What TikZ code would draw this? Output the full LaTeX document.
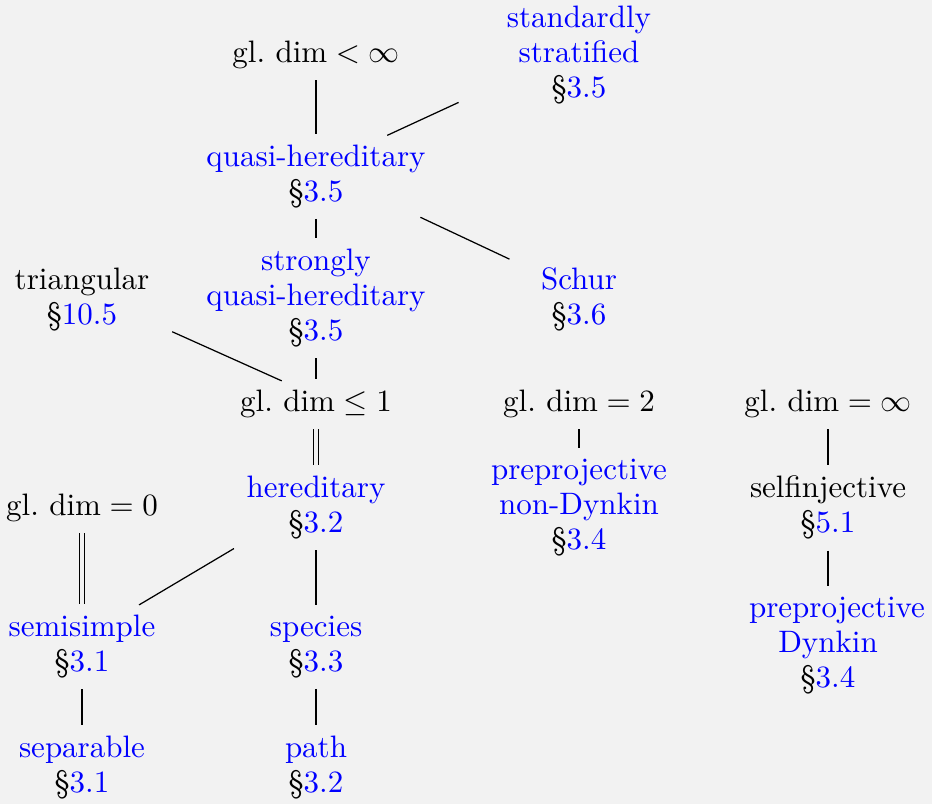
\documentclass[tikz,border=0pt]{standalone}
\usepackage{amsmath}
\usepackage{fontspec}
\definecolor{BgClr}{HTML}{F2F2F2}
\definecolor{LinkClr}{rgb}{0,0,1}
\newcommand{\lnk}[1]{\textcolor{LinkClr}{#1}}
\newcommand{\secnum}[1]{\S\lnk{#1}}
\newcommand{\gldim}{\operatorname{gl.\,dim}}

\tikzset{
  cls/.style={align=center,font=\fontsize{10}{11.3}\selectfont},
  eqlink/.style={double=BgClr,double distance=1pt},
  slant/.style={line width=0.4pt},
}

\begin{document}
\begin{tikzpicture}
\fill[BgClr] (0,0) rectangle (10.567,9.116);
\useasboundingbox (0,0) rectangle (10.567,9.116);

% top rows
\node[cls] (glfin) at (3.583,8.489) {$\gldim < \infty$};
\node[cls] (stdstr) at (6.565,8.494) {\lnk{standardly}\\\lnk{stratified}\\\secnum{3.5}};
\node[cls] (qh) at (3.583,7.117) {\lnk{quasi-hereditary}\\\secnum{3.5}};
\node[cls] (sqh) at (3.583,5.734) {\lnk{strongly}\\\lnk{quasi-hereditary}\\\secnum{3.5}};
\node[cls] (schur) at (6.565,5.716) {\lnk{Schur}\\\secnum{3.6}};
\node[cls] (tri) at (0.930,5.722) {triangular\\\secnum{10.5}};

% global dimension row
\node[cls] (glone) at (3.583,4.532) {$\gldim \le 1$};
\node[cls] (gltwo) at (6.565,4.532) {$\gldim = 2$};
\node[cls] (glinf) at (9.388,4.532) {$\gldim = \infty$};
\node[cls] (glzero) at (0.930,3.352) {$\gldim = 0$};

\node[cls] (her) at (3.583,3.358) {\lnk{hereditary}\\\secnum{3.2}};
\node[cls] (ppnd) at (6.565,3.359) {\lnk{preprojective}\\\lnk{non-Dynkin}\\\secnum{3.4}};
\node[cls] (selfinj) at (9.388,3.358) {selfinjective\\\secnum{5.1}};

% bottom rows
\node[cls] (semi) at (0.930,1.782) {\lnk{semisimple}\\\secnum{3.1}};
\node[cls] (spec) at (3.583,1.782) {\lnk{species}\\\secnum{3.3}};
\node[cls] (ppd) at (9.388,1.795) {\hspace*{5.8pt}\lnk{preprojective}\\\lnk{Dynkin}\\\secnum{3.4}};
\node[cls] (sep) at (0.930,0.410) {\lnk{separable}\\\secnum{3.1}};
\node[cls] (path) at (3.583,0.410) {\lnk{path}\\\secnum{3.2}};

% vertical links
\draw (glfin) -- (qh);
\draw (qh) -- (sqh);
\draw (sqh) -- (glone);
\draw[eqlink] (glone) -- (her);
\draw[eqlink] (glzero) -- (semi);
\draw (her) -- (spec);
\draw (gltwo) -- (ppnd);
\draw (glinf) -- (selfinj);
\draw (selfinj) -- (ppd);
\draw (semi) -- (sep);
\draw (spec) -- (path);

% slanted links
\draw[slant,shorten <=25.3pt,shorten >=42.8pt] ([yshift=2.6pt]qh.center) -- ([yshift=2.6pt]stdstr.center);
\draw[slant,shorten <=37.2pt,shorten >=24.8pt] ([yshift=2.6pt]qh.center) -- ([yshift=2.6pt]schur.center);
\draw[slant,shorten <=31.9pt,shorten >=12.1pt] ([yshift=2.6pt]tri.center) -- ([yshift=2.6pt]glone.center);
\draw[slant,shorten <=30.8pt,shorten >=21.4pt] ([yshift=2.6pt]her.center) -- ([yshift=2.6pt]semi.center);

\end{tikzpicture}
\end{document}
